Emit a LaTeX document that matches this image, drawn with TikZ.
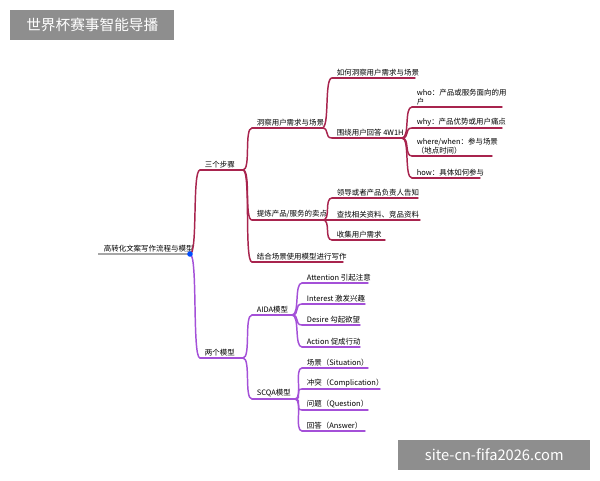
\documentclass[tikz,border=0pt]{standalone}
\usepackage{fontspec}
\setmainfont{Noto Sans CJK SC}
\definecolor{stepred}{HTML}{A8244E}
\definecolor{modelpurple}{HTML}{A450D8}
\definecolor{markgray}{HTML}{8E8E8E}
\tikzset{
  lbl/.style={anchor=south west,inner sep=1.2pt,font=\fontsize{5.6}{6.6}\selectfont,align=left},
  link/.style={line width=1.1pt,line cap=round},
}
% branch: name, colour, x start, x end, y, text
\newcommand{\branch}[6]{%
  \coordinate (#1-s) at (#3,#5);
  \coordinate (#1-e) at (#4,#5);
  \node[lbl] (#1) at (#3+3,#5) {#6};
  \draw[link,#2] (#1-s) -- (#1-e);
}
\begin{document}
\begin{tikzpicture}[x=0.75pt,y=-0.75pt]
  \useasboundingbox[fill=white] (0,0) rectangle (600,480);

  % root
  \coordinate (root-s) at (98,254);
  \coordinate (root-e) at (190,254);
  \node[lbl] (root) at (102,254) {高转化文案写作流程与模型};
  \draw[line width=0.9pt,gray!70] (root-s) -- (root-e);

  % first level
  \branch{steps}{stepred}{200}{243}{170}{三个步骤}
  \branch{models}{modelpurple}{200}{243}{358}{两个模型}

  % three steps
  \branch{insight}{stepred}{252}{322}{128}{洞察用户需求与场景}
  \branch{selling}{stepred}{252}{323}{220}{提炼产品/服务的卖点}
  \branch{write}{stepred}{252}{343}{262}{结合场景使用模型进行写作}

  \branch{how2}{stepred}{332}{415}{78}{如何洞察用户需求与场景}
  \branch{wh}{stepred}{332}{402}{138}{围绕用户回答 4W1H}

  \branch{who}{stepred}{412}{502}{107}{who：产品或服务面向的用\\户}
  \branch{why}{stepred}{412}{502}{128}{why：产品优势或用户痛点}
  \branch{where}{stepred}{412}{492}{156}{where/when：参与场景\\（地点时间）}
  \branch{how}{stepred}{412}{480}{178}{how：具体如何参与}

  \branch{lead}{stepred}{332}{418}{198}{领导或者产品负责人告知}
  \branch{search}{stepred}{332}{420}{220}{查找相关资料、竞品资料}
  \branch{collect}{stepred}{332}{385}{240}{收集用户需求}

  % two models
  \branch{aida}{modelpurple}{252}{292}{315}{AIDA模型}
  \branch{scqa}{modelpurple}{252}{295}{399}{SCQA模型}

  \branch{att}{modelpurple}{302}{368}{283}{Attention 引起注意}
  \branch{int}{modelpurple}{302}{365}{304}{Interest 激发兴趣}
  \branch{des}{modelpurple}{302}{360}{325}{Desire 勾起欲望}
  \branch{act}{modelpurple}{302}{360}{347}{Action 促成行动}

  \branch{sit}{modelpurple}{302}{368}{368}{场景（Situation）}
  \branch{com}{modelpurple}{302}{380}{389}{冲突（Complication）}
  \branch{que}{modelpurple}{302}{368}{410}{问题（Question）}
  \branch{ans}{modelpurple}{302}{365}{431}{回答（Answer）}

  % connectors
  \draw[link,stepred] (root-e) .. controls +(8,0) and +(-8,0) .. (steps-s);
  \draw[link,modelpurple] (root-e) .. controls +(8,0) and +(-8,0) .. (models-s);
  \foreach \a/\b in {steps/insight,steps/selling,steps/write,
                     insight/how2,insight/wh,
                     wh/who,wh/why,wh/where,wh/how,
                     selling/lead,selling/search,selling/collect}
    \draw[link,stepred] (\a-e) .. controls +(8,0) and +(-8,0) .. (\b-s);
  \foreach \a/\b in {models/aida,models/scqa,
                     aida/att,aida/int,aida/des,aida/act,
                     scqa/sit,scqa/com,scqa/que,scqa/ans}
    \draw[link,modelpurple] (\a-e) .. controls +(8,0) and +(-8,0) .. (\b-s);
  \fill[blue!70!cyan] (root-e) circle (2.8);

  % watermarks
  \node[fill=markgray,text=white,minimum width=123pt,minimum height=22pt,
        font=\fontsize{11}{13}\selectfont,anchor=north west] (title) at (10,10) {世界杯赛事智能导播};
  \node[fill=markgray,text=white,minimum width=144pt,minimum height=22pt,
        font=\fontsize{11}{13}\selectfont,anchor=north west] (site) at (398,440) {site-cn-fifa2026.com};
\end{tikzpicture}
\end{document}
